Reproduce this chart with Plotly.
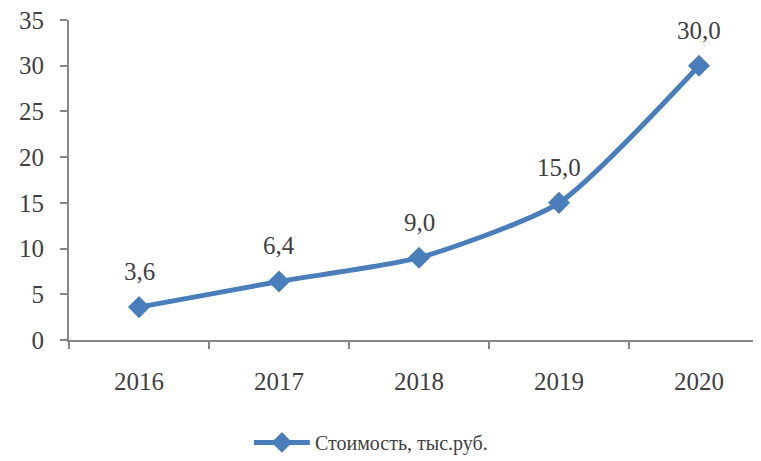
import plotly.graph_objects as go

years = ["2016", "2017", "2018", "2019", "2020"]
cost = [3.6, 6.4, 9.0, 15.0, 30.0]
series_name = "Стоимость, тыс.руб."

BLUE = "#4A7EBB"
AXIS = "#868686"
TEXT = "#404040"
FONT = "Liberation Serif, Times New Roman, serif"

fig = go.Figure()
fig.add_trace(go.Scatter(
    x=years, y=cost, name=series_name, mode="lines+markers",
    line=dict(color=BLUE, width=5, shape="spline", smoothing=0.6),
    marker=dict(symbol="diamond", size=17, color=BLUE),
))

# data labels above each point (x by category index so "2016" isn't read as a number)
for i, v in enumerate(cost):
    fig.add_annotation(x=i, y=v, text=f"{v:.1f}".replace(".", ","),
                       showarrow=False, yanchor="bottom", yshift=20,
                       font=dict(size=25, color=TEXT, family=FONT))

# page body has an 8px margin, so margins are offset to land where the reference does
fig.update_layout(
    width=761, height=461,
    margin=dict(l=61, r=0, t=12, b=129, autoexpand=False),
    paper_bgcolor="white", plot_bgcolor="white",
    font=dict(family=FONT, size=25, color=TEXT),
    showlegend=True,
    legend=dict(orientation="h", x=0.257, xanchor="left", y=-0.32, yanchor="middle",
                font=dict(size=20, color=TEXT, family=FONT), itemwidth=56),
)
fig.update_xaxes(
    type="category", range=[-0.5, 4.5], tickson="boundaries",
    showline=True, linecolor=AXIS, linewidth=2,
    ticks="outside", ticklen=7, tickcolor=AXIS, tickwidth=2,
    tickfont=dict(size=25, family=FONT, color=TEXT), ticklabelstandoff=18,
    showgrid=False, zeroline=False, automargin=False,
)
fig.update_yaxes(
    range=[0, 35], dtick=5,
    showline=True, linecolor=AXIS, linewidth=2,
    ticks="outside", ticklen=7, tickcolor=AXIS, tickwidth=2,
    tickfont=dict(size=25, family=FONT, color=TEXT), ticklabelstandoff=11,
    ticklabeloverflow="allow",
    showgrid=False, zeroline=False, automargin=False,
)

fig.write_html("out.html")
